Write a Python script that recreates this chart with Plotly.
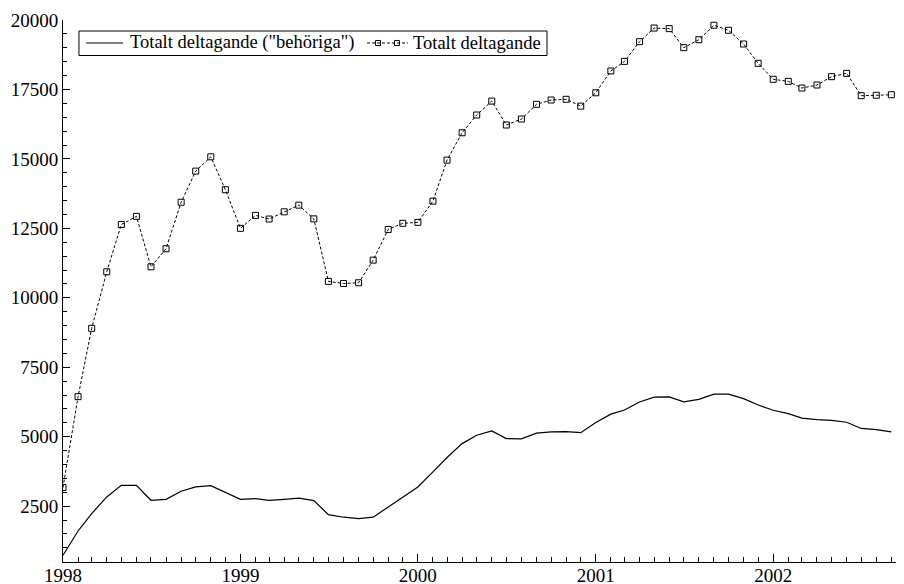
import pandas as pd
import plotly.graph_objects as go

# Månadsdata, jan 1998 - sep 2002
manader = pd.date_range("1998-01-01", periods=57, freq="MS")

behoriga = [
    730, 1605, 2230, 2830, 3250, 3250, 2710, 2745, 3035, 3190, 3235, 3000,
    2745, 2770, 2710, 2745, 2790, 2700, 2195, 2100, 2050, 2100, 2460, 2830,
    3190, 3730, 4250, 4750, 5050, 5205, 4930, 4920, 5125, 5170, 5185, 5145,
    5510, 5810, 5960, 6250, 6420, 6430, 6250, 6340, 6530, 6530, 6370, 6140,
    5950, 5830, 5665, 5615, 5590, 5520, 5295, 5255, 5170,
]

totalt = [
    3170, 6440, 8900, 10935, 12640, 12930, 11115, 11765, 13440, 14560, 15075, 13890,
    12500, 12965, 12835, 13095, 13335, 12840, 10590, 10515, 10540, 11355, 12460, 12680,
    12715, 13480, 14955, 15940, 16580, 17080, 16220, 16435, 16965, 17120, 17145, 16900,
    17380, 18165, 18510, 19220, 19710, 19690, 19005, 19290, 19810, 19630, 19135, 18440,
    17865, 17790, 17550, 17660, 17960, 18080, 17275, 17290, 17310,
]

serie_namn = ['Totalt deltagande ("behöriga")', "Totalt deltagande"]

ytick_vals = [2500, 5000, 7500, 10000, 12500, 15000, 17500, 20000]
ytick_text = [str(v) for v in ytick_vals]

FONT = "Times New Roman, Liberation Serif, DejaVu Serif, serif"
DASH = "3px,2px"

fig = go.Figure()

fig.add_trace(go.Scatter(
    x=manader, y=behoriga,
    mode="lines", name=serie_namn[0],
    line=dict(color="black", width=1.2),
))

fig.add_trace(go.Scatter(
    x=manader, y=totalt,
    mode="lines+markers", name=serie_namn[1],
    line=dict(color="black", width=1, dash=DASH),
    marker=dict(symbol="square-open", size=6, color="black", line=dict(width=1)),
))

fig.update_xaxes(
    type="date",
    range=["1998-01-01", "2002-09-27"],
    tickvals=pd.date_range("1998-01-01", periods=5, freq="YS"),
    tickformat="%Y",
    ticks="inside", ticklen=8, tickcolor="black",
    minor=dict(ticks="inside", ticklen=5, tickcolor="black", dtick="M1", tick0="1998-01-01"),
    showline=True, linecolor="black", linewidth=1,
    showgrid=False, zeroline=False,
    tickfont=dict(family=FONT, size=19, color="black"),
    ticklabelstandoff=-4,
    automargin=False,
)

fig.update_yaxes(
    range=[488, 20000],
    tickvals=ytick_vals, ticktext=ytick_text,
    ticks="inside", ticklen=7, tickcolor="black",
    minor=dict(ticks="inside", ticklen=4, tickcolor="black", dtick=500, tick0=0),
    showline=True, linecolor="black", linewidth=1,
    showgrid=False, zeroline=False,
    tickfont=dict(family=FONT, size=19, color="black"),
    automargin=False,
)

# ── egen legend (plotlys egen blir för hög) ──
LEG_Y = 0.9576
fig.add_shape(type="rect", xref="paper", yref="paper",
              x0=0.019, x1=0.5755, y0=0.9345, y1=0.9797,
              line=dict(color="black", width=1), fillcolor="white", layer="above")
fig.add_shape(type="line", xref="paper", yref="paper",
              x0=0.0274, x1=0.0713, y0=LEG_Y, y1=LEG_Y,
              line=dict(color="black", width=1.2))
fig.add_shape(type="line", xref="paper", yref="paper",
              x0=0.3615, x1=0.4102, y0=LEG_Y, y1=LEG_Y,
              line=dict(color="black", width=1, dash=DASH))
for xa in (0.3746, 0.3971):
    fig.add_shape(type="rect", xref="paper", yref="paper",
                  xsizemode="pixel", ysizemode="pixel",
                  xanchor=xa, yanchor=LEG_Y,
                  x0=-2.5, x1=2.5, y0=-2.5, y1=2.5,
                  line=dict(color="black", width=1), fillcolor="rgba(0,0,0,0)")
for xa, namn in zip((0.0773, 0.4138), serie_namn):
    fig.add_annotation(xref="paper", yref="paper", x=xa, y=LEG_Y,
                       xanchor="left", yanchor="middle", showarrow=False,
                       text=namn, font=dict(family=FONT, size=18.5, color="black"))

# sidan har 8 px marginal runt diagrammet, därav förskjutningen
fig.update_layout(
    width=904, height=584,
    margin=dict(l=55, r=8, t=12, b=30),
    paper_bgcolor="white", plot_bgcolor="white",
    font=dict(family=FONT, color="black"),
    showlegend=False,
)

fig.write_html("out.html")
